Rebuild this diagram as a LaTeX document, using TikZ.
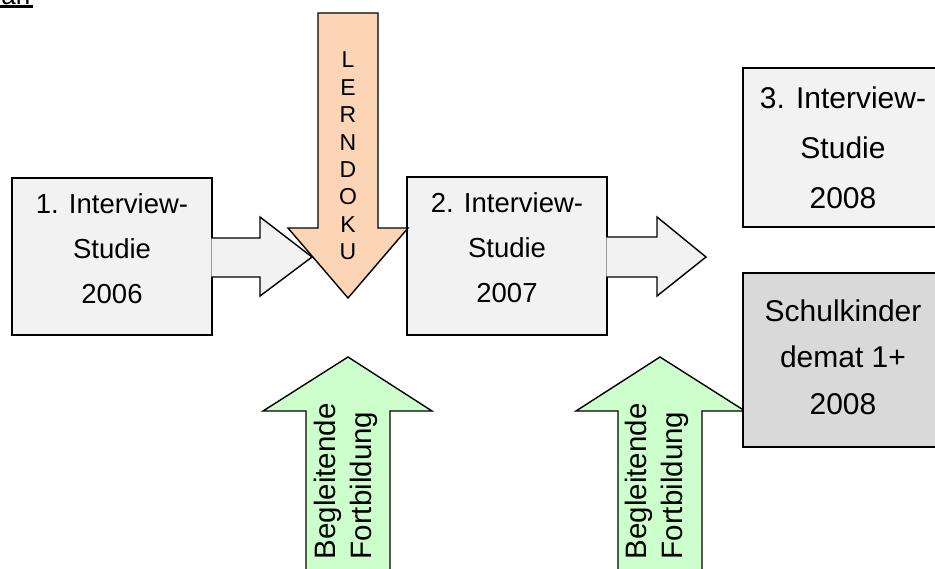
\documentclass[tikz,border=0pt]{standalone}
\usepackage{fontspec}
\setmainfont{Liberation Sans}
\definecolor{boxgray}{HTML}{F2F2F2}
\definecolor{darkbox}{HTML}{D9D9D9}
\definecolor{peach}{HTML}{FBD5B5}
\definecolor{lightgreen}{HTML}{CCFFCC}
\begin{document}
\begin{tikzpicture}[x=1pt,y=-1pt,line width=1.4pt,line join=miter,
  box/.style={draw=black,fill=boxgray,minimum width=200pt,inner sep=0pt,outer sep=0pt},
  boxtext/.style={align=center,inner sep=0pt,font=\fontsize{27.5}{45}\selectfont},
  boxtextb/.style={align=center,inner sep=0pt,font=\fontsize{30}{48}\selectfont},
  grayarrow/.style={fill=boxgray},
  orangearrow/.style={draw=black,fill=peach},
  greenarrow/.style={draw=black,fill=lightgreen},
  greentext/.style={rotate=90,align=left,inner sep=0pt,anchor=west,font=\fontsize{29.5}{36}\selectfont},
  lettertext/.style={align=center,inner sep=0pt,font=\fontsize{23}{27.4}\selectfont}]
\useasboundingbox (0,0) rectangle (935,568);
\fill[white] (0,0) rectangle (935,568);

% partial heading
\node[anchor=base east,inner sep=0pt,font=\fontsize{26}{30}\selectfont] (head) at (31,4) {an};
\draw[line width=2.2pt] (0,6.5) -- (33,6.5);

% green arrows (under boxes)
\filldraw[greenarrow] (348,357) -- (432,411) -- (390,411) -- (390,590) -- (306,590) -- (306,411) -- (263,411) -- cycle;
\filldraw[greenarrow] (660,357) -- (745,411) -- (702,411) -- (702,590) -- (618,590) -- (618,411) -- (576,411) -- cycle;
\node[greentext] (g1) at (345.5,560) {Begleitende\\Fortbildung};
\node[greentext] (g2) at (657,560) {Begleitende\\Fortbildung};

% boxes
\node[box,minimum height=157pt] (b1) at (112,256.5) {};
\node[box,minimum height=158pt] (b2) at (507,256) {};
\node[box,minimum height=159pt] (b3) at (843,147.5) {};
\node[box,fill=darkbox,minimum height=174pt] (b4) at (843,360) {};

\node[boxtext] (t1) at ([yshift=8pt]b1.center) {1. Interview-\\Studie\\2006};
\node[boxtext] (t2) at ([yshift=8pt]b2.center) {2. Interview-\\Studie\\2007};
\node[boxtextb,font=\fontsize{30}{50}\selectfont] (t3) at (b3.center) {3. Interview-\\Studie\\2008};
\node[boxtextb,font=\fontsize{30}{46.5}\selectfont] (t4) at ([yshift=3pt]b4.center) {Schulkinder\\demat 1+\\2008};

% gray arrows
\fill[grayarrow] (211.3,238) -- (260,238) -- (260,217) -- (312,257) -- (260,296) -- (260,277) -- (211.3,277) -- cycle;
\draw (211.3,238) -- (260,238) -- (260,217) -- (312,257) -- (260,296) -- (260,277) -- (211.3,277);
\fill[grayarrow] (606.3,237) -- (657,237) -- (657,217) -- (706,257) -- (657,296) -- (657,277) -- (606.3,277) -- cycle;
\draw (606.3,237) -- (657,237) -- (657,217) -- (706,257) -- (657,296) -- (657,277) -- (606.3,277);

% orange arrow
\filldraw[orangearrow] (318,13) -- (378,13) -- (378,228) -- (408,228) -- (348,298) -- (288,228) -- (318,228) -- cycle;
\node[lettertext] (lern) at (348,156) {L\\E\\R\\N\\D\\O\\K\\U};
\end{tikzpicture}
\end{document}
